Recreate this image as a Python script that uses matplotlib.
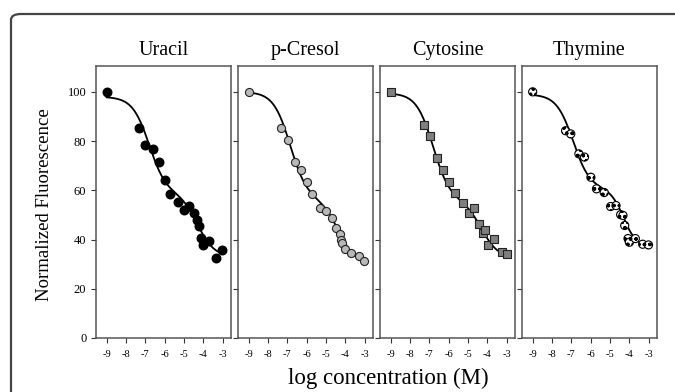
import numpy as np
import matplotlib
matplotlib.use("Agg")
import matplotlib.pyplot as plt
from matplotlib.patches import FancyBboxPatch

plt.rcParams['font.family'] = ['Liberation Serif', 'DejaVu Serif']
plt.rcParams['axes.unicode_minus'] = False

titles = ["Uracil", "p-Cresol", "Cytosine", "Thymine"]

uracil_x = [-9.0, -7.31, -7.0, -6.62, -6.31, -6.0, -5.72, -5.31, -5.02, -4.72, -4.47, -4.31, -4.24, -4.14, -4.02, -3.71, -3.33, -3.02]
uracil_y = [100, 85.3, 78.4, 76.8, 71.5, 64.3, 58.6, 55.3, 52.2, 53.5, 50.7, 47.8, 45.7, 40.5, 37.7, 39.6, 32.7, 35.8]

cresol_x = [-9.0, -7.32, -6.99, -6.61, -6.32, -5.99, -5.71, -5.30, -5.0, -4.71, -4.47, -4.28, -4.21, -4.18, -4.02, -3.72, -3.31, -3.01]
cresol_y = [100, 85.2, 80.6, 71.3, 68.2, 63.4, 58.3, 52.8, 51.6, 48.6, 44.7, 42.1, 39.8, 38.5, 36.2, 34.5, 33.2, 31.4]

cytosine_x = [-9.0, -7.28, -6.98, -6.59, -6.28, -5.98, -5.67, -5.27, -4.96, -4.67, -4.44, -4.22, -4.10, -3.96, -3.66, -3.26, -2.97]
cytosine_y = [100, 86.6, 82.1, 73.3, 68.2, 63.2, 59.1, 54.9, 50.7, 53.0, 46.3, 42.8, 43.7, 37.9, 40.1, 35.0, 34.0]

thymine_x = [-9.0, -7.30, -7.03, -6.61, -6.32, -5.99, -5.70, -5.30, -4.97, -4.69, -4.45, -4.33, -4.24, -4.07, -4.0, -3.69, -3.31, -3.01]
thymine_y = [100, 84.2, 82.9, 74.8, 73.5, 65.3, 60.6, 59.1, 53.4, 53.8, 50.1, 49.8, 45.7, 40.4, 38.9, 40.4, 38.1, 37.8]

# two-site dose-response fit parameters per panel
fit_top = [98.0, 100.0, 99.5, 99.0]
fit_bottom = [33.0, 30.0, 32.5, 37.0]
fit_frac = [0.60, 0.62, 0.65, 0.62]
fit_ec1 = [-6.8, -6.85, -6.8, -6.9]
fit_ec2 = [-4.3, -4.35, -4.3, -4.3]
fit_h1 = [1.0, 1.0, 1.0, 1.0]
fit_h2 = [1.0, 1.0, 1.0, 1.3]

xticks = [-9, -8, -7, -6, -5, -4, -3]
yticks = [0, 20, 40, 60, 80, 100]

data = [(uracil_x, uracil_y), (cresol_x, cresol_y), (cytosine_x, cytosine_y), (thymine_x, thymine_y)]

W, H = 675, 392
fig = plt.figure(figsize=(W / 100, H / 100), dpi=100)

# outer rounded frame
frame = FancyBboxPatch((11 / W, -0.2), 1.2, (H - 14) / H + 0.2,
                       boxstyle="round,pad=0,rounding_size=0.015",
                       transform=fig.transFigure, fill=False,
                       edgecolor='#444444', linewidth=1.6, clip_on=False)
fig.patches.append(frame)

lefts = [96, 238, 380, 522]
pw = 135
top_px, bot_px = 66, 338

def model(x, i):
    f = fit_frac[i]
    s1 = f / (1 + 10 ** ((x - fit_ec1[i]) * fit_h1[i]))
    s2 = (1 - f) / (1 + 10 ** ((x - fit_ec2[i]) * fit_h2[i]))
    return fit_bottom[i] + (fit_top[i] - fit_bottom[i]) * (s1 + s2)

for i, (lx, (xs, ys)) in enumerate(zip(lefts, data)):
    ax = fig.add_axes([lx / W, (H - bot_px) / H, pw / W, (bot_px - top_px) / H])
    ax.set_xlim(-9.553, -2.57)
    ax.set_ylim(0, 110.5)
    xc = np.linspace(-9, -3, 300)
    ax.plot(xc, model(xc, i), color='black', lw=1.3, zorder=2)
    if i == 0:
        ax.scatter(xs, ys, s=38, marker='o', facecolor='black', edgecolor='black', zorder=3)
    elif i == 1:
        ax.scatter(xs, ys, s=34, marker='o', facecolor='#b8b8b8', edgecolor='#222222', linewidths=0.8, zorder=3)
    elif i == 2:
        ax.scatter(xs, ys, s=32, marker='s', facecolor='#7f7f7f', edgecolor='#222222', linewidths=0.8, zorder=3)
    else:
        ax.scatter(xs, ys, s=34, marker='o', facecolor='white', edgecolor='black', linewidths=0.8,
                   hatch='ooo', zorder=3)
    ax.set_title(titles[i], fontsize=14.5, pad=8)
    ax.set_xticks(xticks)
    ax.set_xticklabels([str(t) for t in xticks], fontsize=7.5)
    ax.set_yticks(yticks)
    ax.tick_params(axis='both', direction='out', length=3.5, width=0.8, color='#333333')
    ax.tick_params(axis='x', pad=5)
    if i == 0:
        ax.set_yticklabels([str(t) for t in yticks], fontsize=9)
    else:
        ax.set_yticklabels([])
    for sp in ax.spines.values():
        sp.set_color('#555555')
        sp.set_linewidth(1.1)

fig.text(45 / W, 1 - 205 / H, "Normalized Fluorescence", rotation=90, fontsize=13.5,
         ha='center', va='center')
fig.text(388 / W, 1 - 378 / H, "log concentration (M)", fontsize=16.5, ha='center', va='center')

fig.savefig("out.png", dpi=100)
